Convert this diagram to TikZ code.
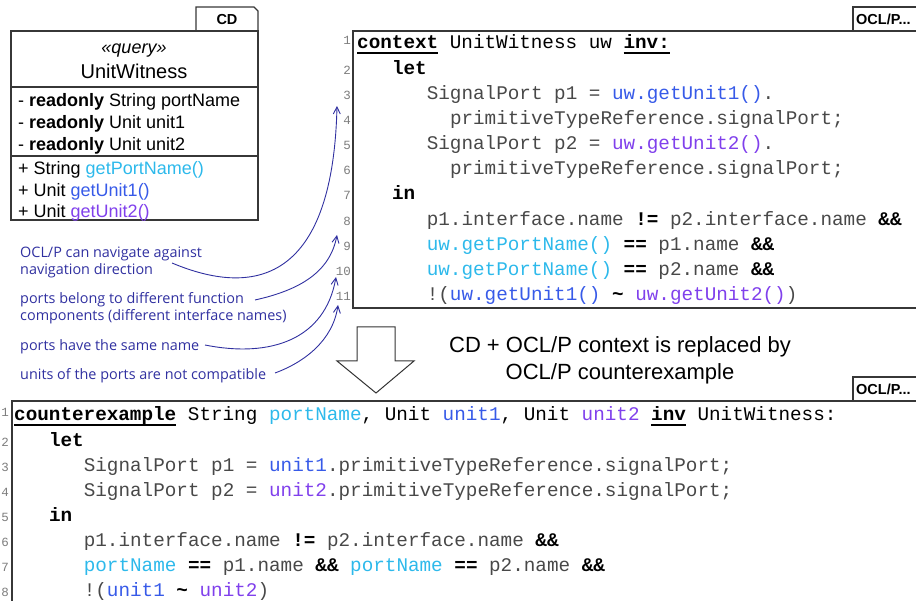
\documentclass[tikz,border=0pt]{standalone}
\usepackage{fontspec}
\setmainfont{Liberation Sans}
\setmonofont{Liberation Mono}
\newfontfamily\annofont{Open Sans}
\usetikzlibrary{arrows.meta}
\definecolor{cpn}{RGB}{45,185,235}
\definecolor{cuone}{RGB}{55,90,232}
\definecolor{cutwo}{RGB}{128,64,236}
\definecolor{annoc}{RGB}{48,48,160}
\definecolor{codegray}{RGB}{72,72,72}
\definecolor{boxline}{RGB}{55,55,55}
\definecolor{lngray}{RGB}{125,125,125}
\newcommand{\kwu}[1]{\setbox0\hbox{\color{black}\bfseries #1}\rlap{\color{black}\rule[-5pt]{\wd0}{1.8pt}}\box0\relax}
\newcommand{\kw}[1]{{\color{black}\bfseries #1}}
\newcommand{\PN}[1]{{\color{cpn}#1}}
\newcommand{\UA}[1]{{\color{cuone}#1}}
\newcommand{\UB}[1]{{\color{cutwo}#1}}
\begin{document}
\begin{tikzpicture}[x=1pt,y=-1pt,
  codeline/.style={anchor=base west, inner sep=0pt, font=\ttfamily\fontsize{19.3}{23}\selectfont, text=codegray},
  lnum/.style={anchor=base east, inner sep=0pt, font=\ttfamily\fontsize{12.5}{14}\selectfont, text=lngray},
  attr/.style={anchor=base west, inner sep=0pt, font=\fontsize{18}{21}\selectfont},
  anno/.style={anchor=base west, inner sep=0pt, font=\annofont\fontsize{14.4}{17}\selectfont, text=annoc},
  tagtext/.style={anchor=base west, inner sep=0pt, font=\bfseries\fontsize{14.5}{16}\selectfont},
  boxl/.style={draw=boxline, line width=1.3pt},
  annoarrow/.style={draw=annoc, line width=0.9pt, -{Straight Barb[length=7pt,width=7pt]}}
]
\useasboundingbox (0,0) rectangle (916,601);

% ---------- CD class box ----------
\draw[boxl] (196,31) -- (196,7) -- (254,7) -- (258,11) -- (258,31);
\node[tagtext, anchor=base] (cdtag) at (227,25) {CD};
\draw[boxl] (11,31) rectangle (258,220);
\draw[boxl] (11,87) -- (258,87);
\draw[boxl] (11,156) -- (258,156);
\node[anchor=base, inner sep=0pt, font=\itshape\fontsize{18}{21}\selectfont] (stereo) at (134,54) {«query»};
\node[anchor=base, inner sep=0pt, font=\fontsize{20}{23}\selectfont] (cname) at (134,79) {UnitWitness};
\node[attr] (at1) at (18,106.5) {- \textbf{readonly} String portName};
\node[attr] (at2) at (18,128.5) {- \textbf{readonly} Unit unit1};
\node[attr] (at3) at (18,150.5) {- \textbf{readonly} Unit unit2};
\node[attr] (me1) at (18,174.5) {+ String \PN{getPortName()}};
\node[attr] (me2) at (18,196.5) {+ Unit \UA{getUnit1()}};
\node[attr] (me3) at (18,217.5) {+ Unit \UB{getUnit2()}};

% ---------- OCL/P context box ----------
\draw[boxl] (930,31) -- (353,31) -- (353,308) -- (930,308);
\draw[boxl] (853,31) -- (853,7) -- (930,7);
\node[tagtext] (tagA) at (856,25) {OCL/P...};

\node[lnum] (n1) at (351,45) {1};
\node[lnum] (n2) at (351,74.15) {2};
\node[lnum] (n3) at (351,99.3) {3};
\node[lnum] (n4) at (351,124.45) {4};
\node[lnum] (n5) at (351,149.6) {5};
\node[lnum] (n6) at (351,174.75) {6};
\node[lnum] (n7) at (351,199.9) {7};
\node[lnum] (n8) at (351,225.05) {8};
\node[lnum] (n9) at (351,250.2) {9};
\node[lnum] (n10) at (351,275.35) {10};
\node[lnum] (n11) at (351,300.5) {11};

\node[codeline] (c1) at (357,49) {\kwu{context} UnitWitness uw \kwu{inv:}};
\node[codeline] (c2) at (391.8,74.15) {\kw{let}};
\node[codeline] (c3) at (426.6,99.3) {SignalPort p1 = \UA{uw.getUnit1()}.};
\node[codeline] (c4) at (449.8,124.45) {primitiveTypeReference.signalPort;};
\node[codeline] (c5) at (426.6,149.6) {SignalPort p2 = \UB{uw.getUnit2()}.};
\node[codeline] (c6) at (449.8,174.75) {primitiveTypeReference.signalPort;};
\node[codeline] (c7) at (391.8,199.9) {\kw{in}};
\node[codeline] (c8) at (426.6,225.05) {p1.interface.name \kw{!=} p2.interface.name \kw{\&\&}};
\node[codeline] (c9) at (426.6,250.2) {\PN{uw.getPortName()} \kw{==} p1.name \kw{\&\&}};
\node[codeline] (c10) at (426.6,275.35) {\PN{uw.getPortName()} \kw{==} p2.name \kw{\&\&}};
\node[codeline] (c11) at (426.6,300.5) {!(\UA{uw.getUnit1()} \kw{\textasciitilde} \UB{uw.getUnit2()})};

% ---------- annotations ----------
\node[anno] (a1) at (20,257.5) {OCL/P can navigate against};
\node[anno] (a1b) at (20,274.5) {navigation direction};
\node[anno] (a2) at (20,303.5) {ports belong to different function};
\node[anno] (a2b) at (20,320.5) {components (different interface names)};
\node[anno] (a3) at (20,350.5) {ports have the same name};
\node[anno] (a4) at (20,379.5) {units of the ports are not compatible};

\coordinate (s1) at (172,263);
\coordinate (t1) at (337,106);
\coordinate (s2) at (255,300);
\coordinate (t2) at (337,235);
\coordinate (s3) at (205,345);
\coordinate (t3) at (336,277);
\coordinate (s4) at (275,373);
\coordinate (t4) at (338,305);
\draw[annoarrow] (s1) .. controls (260,300) and (333,275) .. (t1);
\draw[annoarrow] (s2) .. controls (300,290) and (330,272) .. (t2);
\draw[annoarrow] (s3) .. controls (270,358) and (325,340) .. (t3);
\draw[annoarrow] (s4) .. controls (305,362) and (333,340) .. (t4);

% ---------- transformation arrow ----------
\draw[draw=black!80, fill=white, line width=1pt] (357,327) -- (395,327) -- (395,361) -- (414,361) -- (376,393) -- (337,361) -- (357,361) -- cycle;
\node[align=center, inner sep=0pt, font=\fontsize{22}{27}\selectfont] (caption) at (620,360) {CD + OCL/P context is replaced by\\OCL/P counterexample};

% ---------- counterexample box ----------
\draw[boxl] (930,401) -- (12,401) -- (12,612);
\draw[boxl] (853,401) -- (853,377) -- (930,377);
\node[tagtext] (tagB) at (856,395) {OCL/P...};

\node[lnum] (m1) at (9,417) {1};
\node[lnum] (m2) at (9,446.1) {2};
\node[lnum] (m3) at (9,471.2) {3};
\node[lnum] (m4) at (9,496.3) {4};
\node[lnum] (m5) at (9,521.4) {5};
\node[lnum] (m6) at (9,546.5) {6};
\node[lnum] (m7) at (9,571.6) {7};
\node[lnum] (m8) at (9,596.7) {8};

\node[codeline] (b1) at (14,421) {\kwu{counterexample} String \PN{portName}, Unit \UA{unit1}, Unit \UB{unit2} \kwu{inv} UnitWitness:};
\node[codeline] (b2) at (48.8,446.1) {\kw{let}};
\node[codeline] (b3) at (83.6,471.2) {SignalPort p1 = \UA{unit1}.primitiveTypeReference.signalPort;};
\node[codeline] (b4) at (83.6,496.3) {SignalPort p2 = \UB{unit2}.primitiveTypeReference.signalPort;};
\node[codeline] (b5) at (48.8,521.4) {\kw{in}};
\node[codeline] (b6) at (83.6,546.5) {p1.interface.name \kw{!=} p2.interface.name \kw{\&\&}};
\node[codeline] (b7) at (83.6,571.6) {\PN{portName} \kw{==} p1.name \kw{\&\&} \PN{portName} \kw{==} p2.name \kw{\&\&}};
\node[codeline] (b8) at (83.6,596.7) {!(\UA{unit1} \kw{\textasciitilde} \UB{unit2})};
\end{tikzpicture}
\end{document}
